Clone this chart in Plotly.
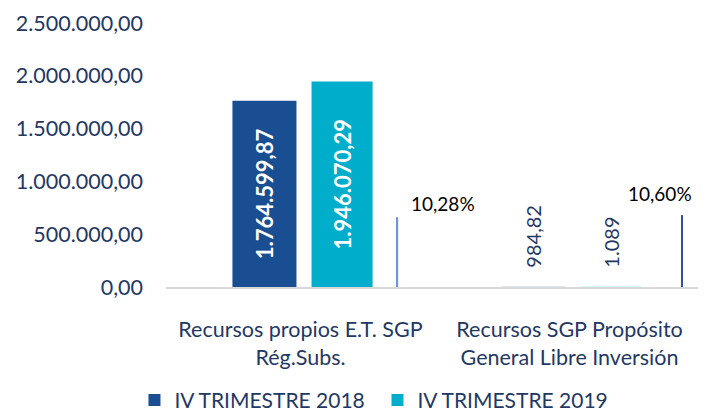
import plotly.graph_objects as go

categories = ["Recursos propios E.T. SGP<br>Rég.Subs.",
              "Recursos SGP Propósito<br>General Libre Inversión"]
series_2018 = [1764599.87, 984.82]
series_2019 = [1946070.29, 1089]
variation_pct = [10.28, 10.60]
y_ticks = [0, 500000, 1000000, 1500000, 2000000, 2500000]
legend_names = ["IV TRIMESTRE 2018", "IV TRIMESTRE 2019"]


def fmt_es(v, decimals=2):
    s = f"{v:,.{decimals}f}"
    return s.replace(",", "X").replace(".", ",").replace("X", ".")


def fmt_val(v):
    return fmt_es(v, 0) if float(v).is_integer() else fmt_es(v, 2)


NAVY = "#1F3864"
C2018 = "#1A4E93"
C2019 = "#00AECB"
FONT = "Lato"
PAD = "\u00a0" * 3

fig = go.Figure()


def bar_trace(name, vals, color, offset, width):
    texts = [("<b>%s</b>" % fmt_val(v)) if i == 0 else PAD + fmt_val(v) for i, v in enumerate(vals)]
    return go.Bar(
        name=name, x=categories, y=vals,
        marker=dict(color=color, line_width=0, opacity=[1, 0.15]),
        offset=offset, width=width,
        text=texts, textangle=-90,
        textposition=["inside", "outside"],
        insidetextanchor="middle",
        textfont=dict(family=FONT, color=["white", NAVY], size=[22, 20]),
        constraintext="none", cliponaxis=False,
    )


fig.add_trace(bar_trace(legend_names[0], series_2018, C2018, -0.253, 0.238))
fig.add_trace(bar_trace(legend_names[1], series_2019, C2019, 0.041, 0.227))

fig.add_trace(go.Bar(
    x=categories, y=variation_pct, yaxis="y2", showlegend=False,
    marker_color=["#6F96DC", "#2F5597"], marker_line_width=0,
    offset=[0.357, 0.416], width=0.006, hoverinfo="skip",
))

xshifts = [142, 90]
yshifts = [14, 22]
for i, (c, v) in enumerate(zip(categories, variation_pct)):
    fig.add_annotation(
        x=c, y=v, yref="y2", text=fmt_es(v, 2) + "%", showarrow=False,
        xshift=xshifts[i], yshift=yshifts[i],
        font=dict(family=FONT, size=19, color="black"),
    )

fig.update_layout(
    width=698, height=403,
    margin=dict(l=158, r=2, t=15, b=124, autoexpand=False),
    paper_bgcolor="white", plot_bgcolor="white",
    barmode="overlay",
    font=dict(family=FONT, color=NAVY, size=20),
    showlegend=True,
    legend=dict(orientation="h", x=-0.0586, xanchor="left", y=-0.429, yanchor="middle",
                entrywidth=198,
                font=dict(family=FONT, size=21, color=NAVY)),
    xaxis=dict(range=[-0.5, 1.5], showline=True, linecolor="#D9D9D9", linewidth=1.5,
               showgrid=False, zeroline=False, ticks="", ticklabelstandoff=22,
               automargin=False,
               tickfont=dict(family=FONT, size=21.5, color=NAVY)),
    yaxis=dict(range=[0, 2500000], tickvals=y_ticks, ticktext=[fmt_es(t, 2) for t in y_ticks],
               showgrid=False, zeroline=False, showline=False, ticks="",
               automargin=False,
               ticklabelstandoff=22, tickfont=dict(family=FONT, size=21.5, color=NAVY)),
    yaxis2=dict(overlaying="y", range=[0, 38.9], visible=False),
)

fig.write_html("out.html")
